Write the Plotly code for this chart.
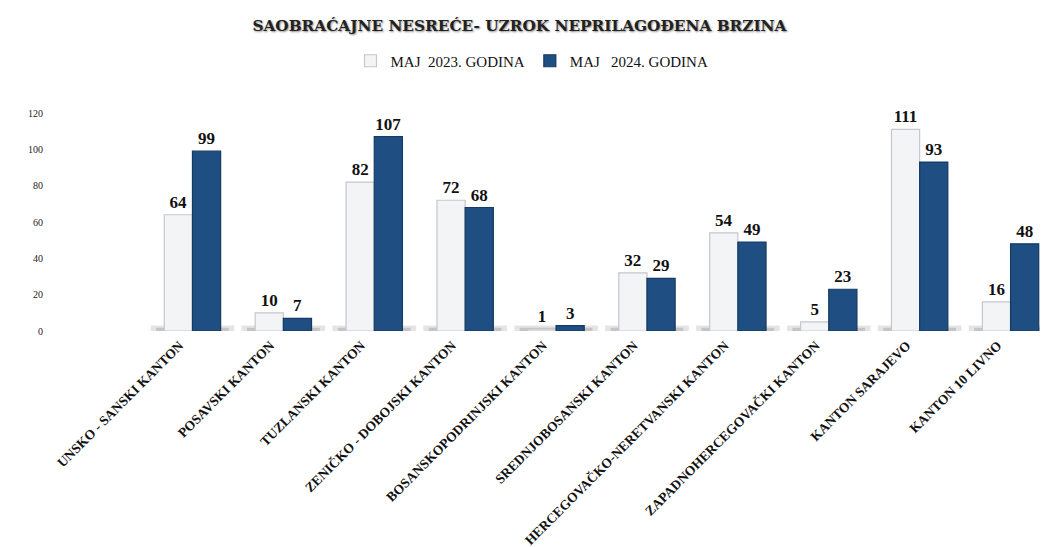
import plotly.graph_objects as go

categories = [
    "UNSKO - SANSKI KANTON",
    "POSAVSKI KANTON",
    "TUZLANSKI KANTON",
    "ZENIČKO - DOBOJSKI KANTON",
    "BOSANSKOPODRINJSKI KANTON",
    "SREDNJOBOSANSKI KANTON",
    "HERCEGOVAČKO-NERETVANSKI KANTON",
    "ZAPADNOHERCEGOVAČKI KANTON",
    "KANTON SARAJEVO",
    "KANTON 10 LIVNO",
]
maj_2023 = [64, 10, 82, 72, 1, 32, 54, 5, 111, 16]
maj_2024 = [99, 7, 107, 68, 3, 29, 49, 23, 93, 48]
series_names = ["MAJ  2023. GODINA", "MAJ   2024. GODINA"]
y_ticks = [0, 20, 40, 60, 80, 100, 120]
title_text = "SAOBRAĆAJNE NESREĆE- UZROK NEPRILAGOĐENA BRZINA"

serif = "Liberation Serif"
label_font = dict(family=serif, size=17, color="#111111", weight="bold")

fig = go.Figure()
fig.add_trace(go.Bar(
    x=categories, y=maj_2023, name=series_names[0],
    marker=dict(color="#f3f4f6", line=dict(color="#c4c7cc", width=1.2)),
    text=maj_2023, textposition="outside", textfont=label_font,
    cliponaxis=False,
))
fig.add_trace(go.Bar(
    x=categories, y=maj_2024, name=series_names[1],
    marker=dict(color="#1f4e82", line=dict(color="#153a63", width=1.2)),
    text=maj_2024, textposition="outside", textfont=label_font,
    cliponaxis=False,
))

# soft floor shadow under each group
shapes = []
for i in range(len(categories)):
    shapes.append(dict(type="rect", xref="x", yref="y", x0=i - 0.46, x1=i + 0.46,
                       y0=-0.6, y1=3.0, fillcolor="#c4c4c4", opacity=0.45,
                       line=dict(width=0), layer="below"))
    shapes.append(dict(type="rect", xref="x", yref="y", x0=i - 0.40, x1=i + 0.40,
                       y0=-0.4, y1=1.8, fillcolor="#a0a0a0", opacity=0.45,
                       line=dict(width=0), layer="below"))

fig.update_layout(
    width=1048, height=547,
    paper_bgcolor="white", plot_bgcolor="white",
    margin=dict(l=139, r=0, t=92, b=224, autoexpand=False),
    barmode="group", bargap=0.38, bargroupgap=0.0,
    title=dict(text=title_text, x=0.488, xanchor="center", y=0.968, yanchor="middle",
               font=dict(family="DejaVu Serif", size=15.3, color="#222222", weight="bold",
                         shadow="1px 1px 2px #888888")),
    legend=dict(orientation="h", xref="container", yref="container",
                x=0.5, xanchor="center", y=1 - 53 / 547, yanchor="middle",
                font=dict(family=serif, size=15, color="#111111"),
                itemwidth=30, traceorder="normal"),
    shapes=shapes,
    showlegend=True,
)
fig.update_xaxes(
    type="category", tickangle=-45, automargin=False,
    tickfont=dict(family=serif, size=13.5, color="#111111", weight="bold"),
    showline=False, showgrid=False, ticks="", zeroline=False,
    ticklabelshift=-13, ticklabelstandoff=3,
)
fig.update_yaxes(
    range=[0, 127.2], tickvals=y_ticks, automargin=False,
    tickfont=dict(family=serif, size=10, color="#222222"),
    showgrid=False, showline=False, zeroline=False, ticks="",
    ticklabelstandoff=103,
)

fig.write_html("out.html")
